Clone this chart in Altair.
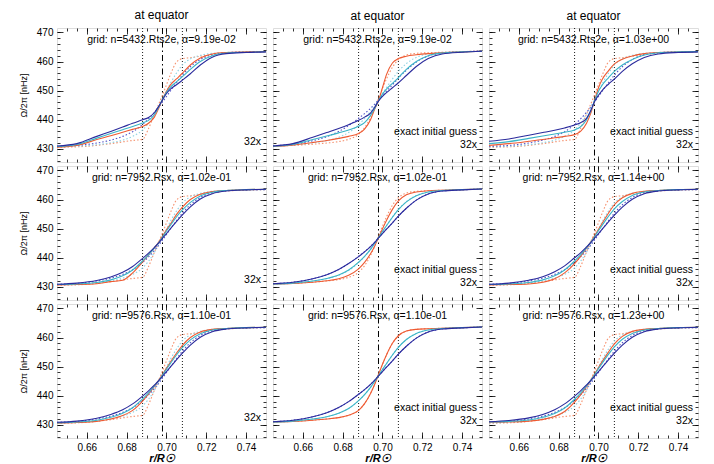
import altair as alt
import pandas as pd

FONT = "Liberation Sans"

# shared radius grid (r / R_sun)
R = [0.645, 0.655, 0.665, 0.672, 0.678, 0.683, 0.688, 0.691, 0.694, 0.696, 0.698,
     0.700, 0.702, 0.705, 0.708, 0.712, 0.717, 0.723, 0.730, 0.740, 0.750]

# true profiles (dotted) for left and right columns
T_SHARP = [430.6, 430.7, 431.2, 431.8, 432.4, 432.9, 433.3, 437.0, 442.0, 445.2, 448.5,
           452.0, 455.5, 459.8, 461.0, 461.3, 461.8, 462.4, 462.9, 463.2, 463.4]
T_MID = [430.7, 430.9, 431.4, 432.1, 433.0, 434.3, 436.5, 438.8, 441.9, 444.3, 447.0,
         449.8, 452.5, 456.0, 458.8, 460.9, 462.1, 462.8, 463.1, 463.3, 463.4]
T_WIDE = [430.9, 431.2, 432.0, 433.0, 434.3, 435.9, 438.4, 440.3, 442.6, 444.2, 446.1,
          448.0, 449.9, 452.7, 455.3, 458.2, 460.7, 462.3, 463.0, 463.3, 463.4]

# true profiles (dotted) for middle column (exact initial guess)
M_SHARP = [431.0, 431.2, 431.6, 432.0, 432.5, 433.3, 435.0, 437.3, 440.8, 443.8, 447.3,
           450.8, 454.0, 458.0, 460.6, 462.2, 462.8, 463.0, 463.2, 463.4, 463.6]
M_MID = [431.0, 431.3, 432.0, 432.8, 434.0, 435.6, 438.3, 440.4, 442.9, 444.8, 446.9,
         449.0, 451.0, 454.0, 456.6, 459.3, 461.4, 462.6, 463.1, 463.4, 463.6]
M_WIDE = [431.1, 431.6, 432.8, 434.2, 436.0, 438.0, 440.5, 442.1, 443.9, 445.3, 446.8,
          448.3, 449.8, 452.0, 454.3, 457.0, 459.8, 461.9, 462.9, 463.3, 463.6]

# inverted profiles (solid), per panel: orange, cyan, blue
P11_O = [430.6, 431.2, 433.2, 434.5, 435.7, 436.7, 437.7, 438.8, 441.0, 443.8, 447.0,
         449.8, 452.0, 454.0, 456.0, 458.8, 461.2, 462.6, 463.1, 463.3, 463.4]
P11_C = [430.8, 431.5, 433.7, 435.3, 436.6, 437.7, 438.9, 439.8, 441.8, 444.2, 447.0,
         449.4, 451.2, 453.0, 454.8, 457.3, 460.0, 462.0, 462.9, 463.2, 463.35]
P11_B = [431.0, 431.8, 434.3, 436.0, 437.5, 438.8, 440.0, 440.8, 442.5, 444.5, 446.8,
         449.0, 450.5, 452.0, 453.6, 455.8, 458.8, 461.5, 462.7, 463.1, 463.3]

P12_O = [430.8, 431.3, 432.2, 432.9, 433.6, 434.3, 435.3, 436.8, 440.0, 443.5, 446.5,
         451.0, 455.5, 459.5, 461.0, 461.8, 462.3, 462.7, 463.0, 463.3, 463.5]
P12_C = [430.9, 431.5, 433.2, 434.4, 435.5, 436.5, 437.8, 439.0, 441.5, 443.8, 446.5,
         448.8, 450.5, 452.5, 454.5, 457.3, 460.0, 462.0, 462.9, 463.3, 463.5]
P12_B = [431.0, 431.8, 434.0, 435.6, 437.0, 438.3, 439.8, 440.9, 442.3, 444.2, 446.4,
         448.0, 449.3, 451.0, 452.7, 455.2, 458.3, 461.0, 462.6, 463.2, 463.5]

P13_O = [431.2, 431.8, 432.6, 433.2, 433.8, 434.3, 434.9, 436.0, 438.8, 442.0, 446.5,
         451.0, 454.0, 456.8, 459.2, 460.8, 461.9, 462.7, 463.1, 463.3, 463.4]
P13_C = [431.8, 432.5, 433.6, 434.4, 435.1, 435.7, 436.5, 437.6, 440.0, 442.8, 446.4,
         449.8, 452.0, 454.4, 456.6, 458.8, 460.7, 462.2, 463.0, 463.3, 463.4]
P13_B = [432.6, 433.4, 434.7, 435.6, 436.4, 437.2, 438.2, 439.0, 440.5, 443.0, 446.2,
         448.4, 450.2, 452.2, 454.0, 456.6, 459.2, 461.4, 462.6, 463.1, 463.3]

P21_O = [430.7, 430.8, 431.1, 431.8, 432.3, 434.8, 438.6, 441.0, 443.5, 445.3, 447.4,
         449.6, 451.6, 454.8, 457.4, 460.0, 461.8, 462.7, 463.1, 463.4, 463.5]
P21_C = [430.8, 431.0, 431.5, 432.4, 433.8, 435.8, 438.9, 441.0, 443.4, 445.1, 447.1,
         449.2, 451.1, 454.0, 456.4, 459.0, 461.2, 462.5, 463.1, 463.4, 463.5]
P21_B = [430.9, 431.3, 432.2, 433.4, 435.0, 437.0, 439.8, 441.6, 443.6, 445.0, 446.7,
         448.3, 450.0, 452.4, 454.7, 457.5, 460.2, 462.0, 462.9, 463.3, 463.5]

P22_O = [431.0, 431.2, 431.6, 432.1, 432.8, 434.0, 436.2, 438.4, 441.4, 443.9, 446.9,
         449.9, 452.8, 456.6, 459.5, 461.6, 462.6, 463.0, 463.2, 463.4, 463.6]
P22_C = [431.0, 431.3, 432.0, 432.9, 434.1, 435.8, 438.5, 440.5, 442.9, 444.8, 446.9,
         449.0, 451.0, 453.9, 456.5, 459.2, 461.3, 462.6, 463.1, 463.4, 463.6]
P22_B = [431.1, 431.6, 432.8, 434.2, 436.0, 438.0, 440.4, 442.0, 443.8, 445.2, 446.8,
         448.3, 449.8, 452.0, 454.3, 457.0, 459.8, 461.9, 462.9, 463.3, 463.6]

P23_O = [430.7, 430.8, 431.0, 431.6, 432.8, 434.8, 438.0, 440.5, 443.3, 445.3, 447.5,
         449.8, 452.0, 455.3, 458.2, 460.6, 462.1, 462.8, 463.1, 463.4, 463.5]
P23_C = [430.8, 431.0, 431.5, 432.4, 433.8, 435.8, 438.9, 441.0, 443.4, 445.2, 447.2,
         449.3, 451.3, 454.2, 456.8, 459.3, 461.4, 462.6, 463.1, 463.4, 463.5]
P23_B = [430.9, 431.3, 432.3, 433.5, 435.2, 437.2, 440.0, 441.7, 443.7, 445.1, 446.7,
         448.3, 449.9, 452.3, 454.6, 457.4, 460.1, 462.0, 462.9, 463.3, 463.5]

P31_O = [430.6, 430.8, 431.2, 432.0, 433.2, 435.0, 438.2, 440.6, 443.3, 445.2, 447.3,
         449.5, 451.6, 454.6, 457.3, 460.0, 461.9, 462.8, 463.1, 463.4, 463.5]
P31_C = [430.7, 431.0, 431.6, 432.6, 434.0, 435.9, 438.9, 441.0, 443.4, 445.1, 447.1,
         449.1, 451.1, 454.0, 456.5, 459.2, 461.3, 462.6, 463.1, 463.4, 463.5]
P31_B = [430.9, 431.3, 432.3, 433.6, 435.2, 437.2, 439.9, 441.7, 443.7, 445.1, 446.7,
         448.3, 449.9, 452.3, 454.6, 457.4, 460.1, 462.0, 462.9, 463.3, 463.5]

P32_O = [431.0, 431.2, 431.6, 432.0, 432.5, 433.3, 435.0, 437.3, 440.8, 443.8, 447.3,
         450.8, 454.0, 458.0, 460.6, 462.2, 462.8, 463.0, 463.2, 463.4, 463.6]
P32_C = [431.0, 431.3, 432.0, 432.8, 434.0, 435.6, 438.3, 440.4, 442.9, 444.8, 446.9,
         449.0, 451.0, 454.0, 456.6, 459.3, 461.4, 462.6, 463.1, 463.4, 463.6]
P32_B = [431.1, 431.6, 432.8, 434.2, 436.0, 438.0, 440.5, 442.1, 443.9, 445.3, 446.8,
         448.3, 449.8, 452.0, 454.3, 457.0, 459.8, 461.9, 462.9, 463.3, 463.6]

P33_O = [430.9, 431.0, 431.3, 431.9, 432.9, 434.6, 437.8, 440.3, 443.2, 445.2, 447.4,
         449.7, 451.9, 455.0, 457.8, 460.4, 462.1, 462.8, 463.1, 463.4, 463.5]
P33_C = [431.0, 431.2, 431.7, 432.6, 433.9, 435.8, 438.8, 440.9, 443.4, 445.2, 447.2,
         449.3, 451.3, 454.2, 456.8, 459.4, 461.4, 462.6, 463.1, 463.4, 463.5]
P33_B = [431.1, 431.5, 432.4, 433.6, 435.2, 437.2, 439.9, 441.7, 443.7, 445.1, 446.7,
         448.3, 449.9, 452.3, 454.6, 457.4, 460.1, 462.0, 462.9, 463.3, 463.5]

LABELS = [
    ["grid: n=5432.Rts2e, α=9.19e-02", "grid: n=5432.Rts2e, α=9.19e-02", "grid: n=5432.Rts2e, α=1.03e+00"],
    ["grid: n=7952.Rsx, α=1.02e-01", "grid: n=7952.Rsx, α=1.02e-01", "grid: n=7952.Rsx, α=1.14e+00"],
    ["grid: n=9576.Rsx, α=1.10e-01", "grid: n=9576.Rsx, α=1.10e-01", "grid: n=9576.Rsx, α=1.23e+00"],
]
SOLIDS = [
    [(P11_O, P11_C, P11_B), (P12_O, P12_C, P12_B), (P13_O, P13_C, P13_B)],
    [(P21_O, P21_C, P21_B), (P22_O, P22_C, P22_B), (P23_O, P23_C, P23_B)],
    [(P31_O, P31_C, P31_B), (P32_O, P32_C, P32_B), (P33_O, P33_C, P33_B)],
]
DOTTED_SIDE = (T_SHARP, T_MID, T_WIDE)
DOTTED_MID = (M_SHARP, M_MID, M_WIDE)

VLINES_DOT = [0.688, 0.708]
VLINES_DASHDOT = [0.698]

XMAJ = [0.66, 0.68, 0.70, 0.72, 0.74]
XMIN = [0.650, 0.655, 0.660, 0.665, 0.670, 0.675, 0.680, 0.685, 0.690, 0.695, 0.700,
        0.705, 0.710, 0.715, 0.720, 0.725, 0.730, 0.735, 0.740, 0.745]
YMAJ = [430, 440, 450, 460, 470]
YMIN = [426, 428, 430, 432, 434, 436, 438, 440, 442, 444, 446, 448, 450, 452, 454,
        456, 458, 460, 462, 464, 466, 468, 470]

SERIES = ["sol_o", "sol_c", "sol_b", "dot_o", "dot_c", "dot_b"]
COLORS = ["#ee5a32", "#3ab4c6", "#2a2a9c", "#f5916e", "#8fd3e3", "#5252c8"]

W, H = 209, 134
XS = alt.Scale(domain=[0.645, 0.75], nice=False, zero=False)
YS = alt.Scale(domain=[425.5, 471.5], nice=False, zero=False)


def tick_axis(orient, values, size):
    return alt.Axis(orient=orient, values=values, tickSize=size, offset=-size,
                    labels=False, domain=False, grid=False, title=None,
                    ticks=True, tickColor="black", tickWidth=0.8)


def long_df(names, arrays):
    rows = []
    for name, vals in zip(names, arrays):
        for r, v in zip(R, vals):
            rows.append({"r": r, "v": v, "s": name})
    return pd.DataFrame(rows)


def panel(i, j):
    color = alt.Color("s:N", scale=alt.Scale(domain=SERIES, range=COLORS), legend=None)
    df_sol = long_df(SERIES[:3], SOLIDS[i][j])
    df_dot = long_df(SERIES[3:], DOTTED_MID if j == 1 else DOTTED_SIDE)

    if i == 2:
        x_lab = alt.Axis(orient="bottom", values=XMAJ, format=".2f", ticks=False, domain=False,
                         grid=False, labelFontSize=10, labelPadding=4, labelFont=FONT,
                         title="r/R☉", titleFont=FONT, titleFontSize=11, titleFontStyle="italic",
                         titleFontWeight="bold", titlePadding=0, labelColor="black", titleColor="black")
    else:
        x_lab = None
    if j == 0:
        y_lab = alt.Axis(orient="left", values=YMAJ, ticks=False, domain=False, grid=False,
                         labelFontSize=10, labelPadding=4, labelFont=FONT,
                         title="Ω/2π [nHz]", titleFont=FONT, titleFontSize=9,
                         titleFontWeight="normal", titlePadding=8, labelColor="black", titleColor="black")
    else:
        y_lab = None

    dotted = alt.Chart(df_dot).mark_line(strokeDash=[1.5, 2], strokeWidth=1.1,
                                         interpolate="monotone").encode(
        x=alt.X("r:Q", scale=XS, axis=tick_axis("bottom", XMAJ, 6)),
        y=alt.Y("v:Q", scale=YS, axis=tick_axis("left", YMAJ, 6)),
        color=color, detail="s:N")
    solid = alt.Chart(df_sol).mark_line(strokeWidth=1.1, interpolate="monotone").encode(
        x=alt.X("r:Q", scale=XS, axis=x_lab),
        y=alt.Y("v:Q", scale=YS, axis=y_lab),
        color=color, detail="s:N")
    g1 = alt.Chart(df_sol).mark_line(opacity=0).encode(
        x=alt.X("r:Q", scale=XS, axis=tick_axis("bottom", XMIN, 3)),
        y=alt.Y("v:Q", scale=YS, axis=tick_axis("left", YMIN, 3)), detail="s:N")
    g2 = alt.Chart(df_sol).mark_line(opacity=0).encode(
        x=alt.X("r:Q", scale=XS, axis=tick_axis("top", XMAJ, 6)),
        y=alt.Y("v:Q", scale=YS, axis=tick_axis("right", YMAJ, 6)), detail="s:N")
    g3 = alt.Chart(df_sol).mark_line(opacity=0).encode(
        x=alt.X("r:Q", scale=XS, axis=tick_axis("top", XMIN, 3)),
        y=alt.Y("v:Q", scale=YS, axis=tick_axis("right", YMIN, 3)), detail="s:N")

    vdot = alt.Chart(pd.DataFrame({"r": VLINES_DOT})).mark_rule(
        color="black", strokeWidth=0.9, strokeDash=[1, 2]).encode(
        x=alt.X("r:Q", scale=XS, axis=None))
    vdd = alt.Chart(pd.DataFrame({"r": VLINES_DASHDOT})).mark_rule(
        color="black", strokeWidth=1, strokeDash=[6, 3, 1.5, 3]).encode(
        x=alt.X("r:Q", scale=XS, axis=None))

    layers = [vdot, vdd, dotted, solid, g1, g2, g3]

    top_txt = alt.Chart(pd.DataFrame({"t": [LABELS[i][j]]})).mark_text(
        font=FONT, fontSize=10.5, color="black", align="center", baseline="middle").encode(
        text="t:N", x=alt.value(W / 2), y=alt.value(12))
    layers.append(top_txt)
    if j == 0:
        t32 = alt.Chart(pd.DataFrame({"t": ["32x"]})).mark_text(
            font=FONT, fontSize=10.5, color="black", align="right", baseline="middle").encode(
            text="t:N", x=alt.value(W - 5), y=alt.value(H - 20))
        layers.append(t32)
    else:
        tex = alt.Chart(pd.DataFrame({"t": ["exact initial guess"]})).mark_text(
            font=FONT, fontSize=10.5, color="black", align="right", baseline="middle").encode(
            text="t:N", x=alt.value(W - 5), y=alt.value(H - 30))
        t32 = alt.Chart(pd.DataFrame({"t": ["32x"]})).mark_text(
            font=FONT, fontSize=10.5, color="black", align="right", baseline="middle").encode(
            text="t:N", x=alt.value(W - 5), y=alt.value(H - 17))
        layers += [tex, t32]

    ch = alt.layer(*layers).resolve_axis(x="independent", y="independent").properties(
        width=W, height=H)
    if i == 0:
        ch = ch.properties(title=alt.TitleParams("at equator", font=FONT, fontSize=12,
                                                 fontWeight="normal", color="black",
                                                 anchor="middle", offset=5))
    return ch


rows = [alt.hconcat(*[panel(i, j) for j in range(3)], spacing=1) for i in range(3)]
chart = alt.vconcat(*rows, spacing=1).properties(
    padding={"left": 10, "top": 0, "right": 0, "bottom": 0}
).configure_view(stroke="black", strokeWidth=1).configure(font=FONT)

chart.save("out.html", embed_options={"renderer": "svg", "actions": False})
